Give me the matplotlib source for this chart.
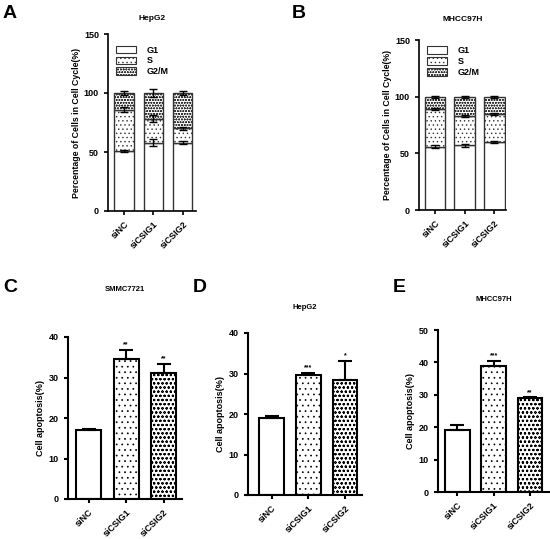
import matplotlib
matplotlib.use("Agg")
import matplotlib.pyplot as plt
import numpy as np

plt.rcParams['font.family'] = ['Liberation Sans', 'DejaVu Sans']
plt.rcParams['font.weight'] = 'bold'
plt.rcParams['hatch.linewidth'] = 0.5

groups_ab = ["siNC", "siCSIG1", "siCSIG2"]

# Panel A (HepG2 cell cycle)
a_g1 = [51, 58, 58]
a_s = [35, 20, 12]
a_g2m = [14, 22, 30]
a_g1_err = [1, 3, 1.5]
a_s_err = [2, 3, 1.5]
a_g2m_err = [2, 3, 1.5]

# Panel B (MHCC97H cell cycle)
b_g1 = [56, 57, 60]
b_s = [33, 26, 25]
b_g2m = [11, 17, 15]
b_g1_err = [1, 1, 0.5]
b_s_err = [1, 0.8, 0.8]
b_g2m_err = [1, 0.8, 0.8]

# Panels C-E (apoptosis)
c_vals = [17, 34.5, 31]
c_err = [0.4, 2.3, 2.3]
c_stars = ["", "**", "**"]
d_vals = [19, 29.7, 28.4]
d_err = [0.5, 0.4, 4.8]
d_stars = ["", "***", "*"]
e_vals = [19.2, 39, 29]
e_err = [1.5, 1.5, 0.2]
e_stars = ["", "***", "**"]

W, H = 550, 539
fig = plt.figure(figsize=(W / 100, H / 100), dpi=100)


def mk_axes(left, right, top, bottom):
    return fig.add_axes([left / W, 1 - bottom / H, (right - left) / W, (bottom - top) / H])


hatches = [None, "...", "oooo"]


def style(ax, lw=1.2):
    for s in ["top", "right"]:
        ax.spines[s].set_visible(False)
    for s in ["left", "bottom"]:
        ax.spines[s].set_linewidth(lw)
    ax.tick_params(axis="both", labelsize=6.5, width=lw, length=3)


def cycle_panel(ax, g1, s, g2m, e1, e2, e3, width, xlim, title, title_pad, ylabel, lw, leg_y):
    x = np.arange(len(g1))
    g1 = np.array(g1)
    s = np.array(s)
    g2m = np.array(g2m)
    ax.bar(x, g1, width, color="white", edgecolor="#333333", linewidth=lw, label="G1")
    ax.bar(x, s, width, bottom=g1, color="white", edgecolor="#333333", hatch="....", linewidth=lw, label="S")
    ax.bar(x, g2m, width, bottom=g1 + s, color="white", edgecolor="#333333", hatch="oooooo", linewidth=lw, label="G2/M")
    ax.errorbar(x, g1, yerr=e1, fmt="none", ecolor="black", elinewidth=1, capsize=3, capthick=1)
    ax.errorbar(x, g1 + s, yerr=e2, fmt="none", ecolor="black", elinewidth=1, capsize=3, capthick=1)
    ax.errorbar(x, g1 + s + g2m, yerr=e3, fmt="none", ecolor="black", elinewidth=1, capsize=3, capthick=1)
    ax.set_ylim(0, 150)
    ax.set_yticks([0, 50, 100, 150])
    ax.set_xlim(*xlim)
    ax.set_xticks(x)
    ax.set_xticklabels(groups_ab, rotation=45, ha="right", rotation_mode="anchor", fontsize=6.5)
    ax.set_ylabel(ylabel, fontsize=6.3, fontweight="bold", labelpad=2)
    ax.set_title(title, fontsize=6, fontweight="bold", pad=title_pad)
    style(ax)
    leg = ax.legend(loc="upper left", bbox_to_anchor=(0.02, leg_y), frameon=False, fontsize=6.5,
                    handlelength=2.2, handleheight=0.9, labelspacing=0.2, handletextpad=1.2, borderaxespad=0.3)
    for h in leg.legend_handles:
        h.set_linewidth(0.8)


def apop_panel(ax, vals, err, stars, ymax, yticks, width, xlim, title, title_pad):
    x = np.arange(len(vals))
    for i in range(len(vals)):
        ax.bar(x[i], vals[i], width, color="white", edgecolor="black", hatch=hatches[i], linewidth=1.5)
    ax.errorbar(x, vals, yerr=[np.zeros(len(err)), err], fmt="none", ecolor="black",
                elinewidth=1.5, capsize=5, capthick=1.5)
    for i in range(len(vals)):
        if stars[i]:
            ax.text(x[i], vals[i] + err[i] + ymax * 0.01, stars[i], ha="center", va="bottom", fontsize=5)
    ax.set_ylim(0, ymax)
    ax.set_yticks(yticks)
    ax.set_xlim(*xlim)
    ax.set_xticks(x)
    ax.set_xticklabels(groups_ab, rotation=45, ha="right", rotation_mode="anchor", fontsize=6.5)
    ax.set_ylabel("Cell apoptosis(%)", fontsize=6.5, fontweight="bold", labelpad=3)
    ax.set_title(title, fontsize=5.5, fontweight="bold", pad=title_pad)
    style(ax, 1.5)


axA = mk_axes(108, 196, 34, 211)
cycle_panel(axA, a_g1, a_s, a_g2m, a_g1_err, a_s_err, a_g2m_err, 0.66, (-0.54, 2.45),
            "HepG2", 10, "Percentage of Cells in Cell Cycle(%)", 1.0, 0.97)

axB = mk_axes(419, 506, 40, 210)
cycle_panel(axB, b_g1, b_s, b_g2m, b_g1_err, b_s_err, b_g2m_err, 0.7, (-0.54, 2.39),
            "MHCC97H", 13.5, "Percentage of Cells in Cell Cycle(%)", 1.0, 1.0)

axC = mk_axes(68, 182, 337, 499)
apop_panel(axC, c_vals, c_err, c_stars, 40, [0, 10, 20, 30, 40], 0.67, (-0.55, 2.49), "SMMC7721", 33)

axD = mk_axes(248, 362, 333, 495)
apop_panel(axD, d_vals, d_err, d_stars, 40, [0, 10, 20, 30, 40], 0.67, (-0.64, 2.46), "HepG2", 17)

axE = mk_axes(438, 549, 330, 492)
apop_panel(axE, e_vals, e_err, e_stars, 50, [0, 10, 20, 30, 40, 50], 0.68, (-0.53, 2.52), "MHCC97H", 21)

for lab, (px, py) in zip("ABCDE", [(3, 14), (292, 14), (3, 287), (193, 287), (393, 287)]):
    fig.text(px / W, 1 - py / H, lab, fontsize=14, fontweight="bold", va="center", ha="left")

fig.savefig("out.png", dpi=100)
